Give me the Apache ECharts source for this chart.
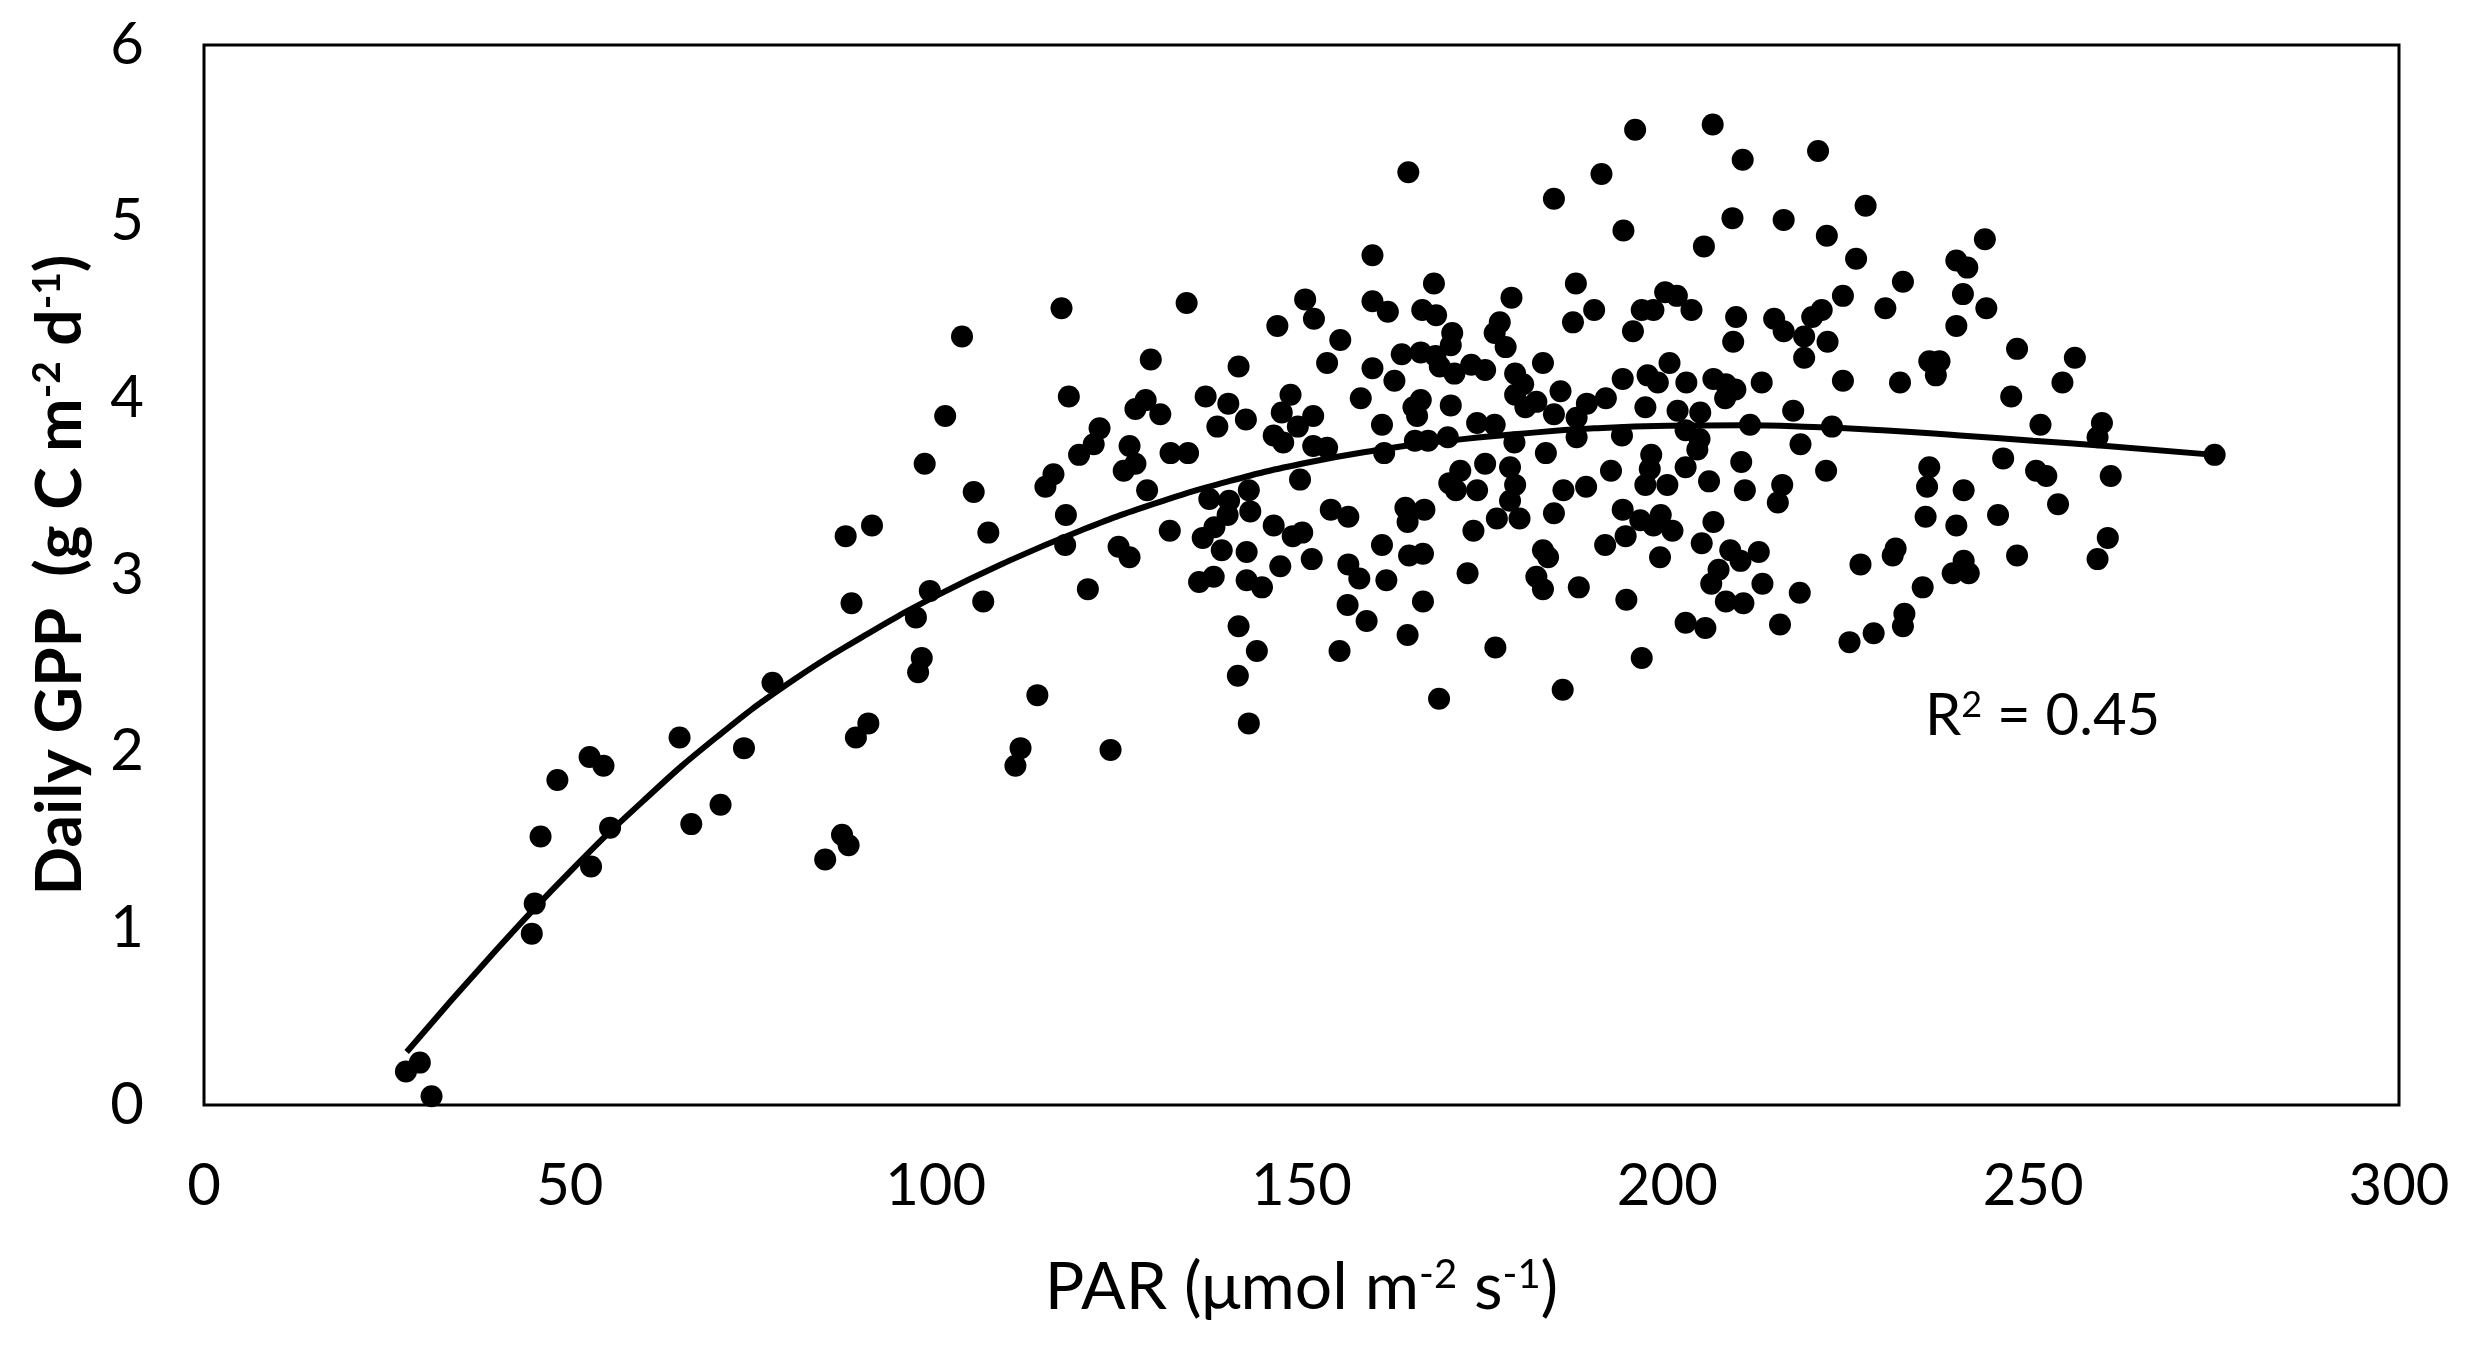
<!DOCTYPE html>
<html>
<head>
<meta charset="utf-8">
<script src="https://cdn.jsdelivr.net/npm/echarts@6/dist/echarts.min.js"></script>
<style>
html,body{margin:0;padding:0;background:#fff;}
#chart{width:2477px;height:1353px;}
</style>
</head>
<body>
<div id="chart"></div>
<script>
// PAR (x) values of the daily observations
const parValues = [
27.6,29.5,31.1,44.8,45.2,46.0,48.3,52.7,52.9,54.6,55.5,65.0,66.6,70.6,73.8,77.7,84.9,87.2,87.7,
88.1,88.5,89.1,90.8,91.3,97.3,97.6,98.1,98.5,99.2,101.3,103.6,105.2,106.5,107.2,
110.9,111.6,113.9,115.0,116.1,117.2,117.7,117.8,118.2,119.6,120.8,121.6,122.4,123.9,125.0,125.7,126.5,126.5,127.3,127.3,
128.7,128.9,129.4,130.7,132.0,132.1,134.3,134.5,136.0,136.5,136.9,137.4,138.0,138.1,138.5,139.1,139.9,140.0,140.1,
141.3,141.4,141.4,142.4,142.5,142.5,142.8,142.8,143.0,143.9,144.6,146.2,146.2,146.7,147.1,147.3,147.5,148.5,148.8,
149.5,149.8,150.1,150.5,151.4,151.6,151.6,151.7,153.5,153.5,154.0,155.2,155.3,156.3,156.4,156.4,157.9,158.1,158.9,
159.7,159.7,159.7,161.0,161.0,161.3,161.6,161.8,162.7,163.7,164.2,164.5,164.5,164.7,165.3,165.5,165.8,166.3,166.3,
166.5,166.6,166.6,166.8,167.3,168.1,168.3,168.4,168.8,168.9,170.0,170.2,
164.6,170.4,170.6,170.4,170.9,171.1,171.7,172.7,173.2,173.5,174.0,174.0,175.1,175.1,176.4,176.4,176.5,176.7,177.1,
177.9,178.5,178.5,178.7,179.1,179.2,179.2,179.2,179.8,180.3,180.6,182.1,182.1,183.0,183.0,183.0,183.4,183.7,184.5,
184.5,184.5,185.4,185.7,185.8,187.1,187.5,187.6,187.6,187.9,188.9,189.0,190.0,191.0,191.5,191.6,192.3,193.8,193.9,
193.9,194.0,194.3,194.4,195.3,195.6,196.3,196.5,196.5,197.0,197.0,197.3,197.6,197.8,198.1,198.1,198.7,199.0,199.1,
199.7,200.0,200.3,200.7,201.3,201.4,202.5,202.5,202.5,202.6,203.3,204.1,204.4,204.5,204.7,205.0,205.2,205.7,206.0,
206.2,206.3,206.3,207.0,207.9,208.0,208.0,208.6,208.9,209.0,209.3,209.4,210.0,210.1,210.3,210.4,210.6,211.3,212.5,
212.9,213.0,214.6,215.1,215.4,215.7,215.9,215.9,217.2,218.1,218.2,218.7,218.7,219.8,220.6,221.1,221.7,221.8,221.9,
222.5,224.0,224.0,224.9,225.8,226.4,227.1,228.2,229.8,230.8,231.2,231.8,
232.2,232.4,232.2,234.9,235.3,235.5,235.8,235.8,236.7,237.2,239.0,239.5,239.5,239.5,240.4,240.5,240.5,241.0,241.2,
243.4,243.6,245.2,245.9,247.0,247.8,247.8,250.4,251.0,251.8,253.4,254.0,255.7,258.8,258.8,259.4,260.2,260.6,274.8
];

// Daily GPP (y) values, same order as parValues
const gppValues = [
0.19,0.24,0.05,0.97,1.14,1.52,1.84,1.97,1.35,1.92,1.57,2.08,1.59,1.70,2.02,2.39,1.39,1.53,3.22,
1.47,2.84,2.08,2.16,3.28,2.76,2.45,2.53,3.63,2.91,3.90,4.35,3.47,2.85,3.24,
1.92,2.02,2.32,3.50,3.57,4.51,3.17,3.34,4.01,3.68,2.92,3.74,3.83,2.01,3.16,3.59,3.10,3.73,3.63,3.94,
3.99,3.48,4.22,3.91,3.25,3.69,4.54,3.69,2.96,3.21,4.01,3.43,2.99,3.27,3.84,3.14,3.34,3.97,3.42,
2.43,2.71,4.18,3.88,3.13,2.97,3.48,2.16,3.36,2.57,2.93,3.79,3.28,4.41,3.05,3.92,3.75,4.02,3.22,
3.84,3.54,3.24,4.56,3.09,3.90,3.73,4.45,4.20,3.72,3.37,2.57,4.33,2.83,3.33,3.06,2.98,4.00,2.74,
4.81,4.55,4.17,3.85,3.17,3.69,2.97,4.49,4.10,4.25,3.38,3.30,2.66,3.11,3.95,3.76,3.90,3.99,4.26,
4.50,3.12,2.85,3.37,3.76,4.65,4.24,4.47,2.30,4.18,3.78,3.52,
5.28,4.30,4.37,3.96,4.14,3.48,3.59,3.01,4.19,3.25,3.86,3.48,4.16,3.63,4.37,3.85,2.59,3.32,4.43,
4.29,3.61,3.42,4.57,3.75,4.14,4.02,3.51,3.32,4.08,3.95,3.98,2.99,4.20,3.14,2.92,3.69,3.10,5.13,
3.91,3.35,4.04,2.35,3.48,4.43,4.65,3.89,3.78,2.93,3.50,3.97,4.50,5.27,3.17,4.00,3.59,3.79,4.11,
3.37,4.95,3.22,2.86,4.38,5.52,3.31,4.50,2.53,3.95,3.51,4.13,3.60,3.68,4.50,3.28,4.09,3.10,3.34,
4.60,3.51,4.20,3.25,4.58,3.93,3.82,3.61,2.73,4.09,4.50,3.71,3.77,3.92,3.18,4.86,2.70,3.53,2.95,
5.55,4.11,3.30,3.03,4.00,4.08,2.85,3.14,5.02,4.32,4.05,4.46,3.08,3.64,5.35,2.84,3.48,3.85,3.13,
4.09,2.95,4.45,3.41,2.72,3.51,5.01,4.38,3.93,2.90,3.74,4.35,4.23,4.46,5.40,4.50,3.59,4.92,4.32,
3.84,4.58,4.10,2.62,4.79,3.06,5.09,2.67,4.51,3.11,3.15,4.09,
4.66,2.78,2.71,2.93,3.33,3.50,3.61,4.21,4.13,4.21,3.01,4.78,4.41,3.28,4.59,3.48,3.08,4.74,3.01,
4.90,4.51,3.34,3.66,4.01,4.28,3.11,3.59,3.85,3.56,3.40,4.09,4.23,3.78,3.09,3.86,3.21,3.56,3.68
];

// Polynomial trend line
const trendPar = [27.7,40,50,60,70,80,90,100,110,120,130,140,150,160,170,180,190,200,210,220,230,240,250,260,274.8];
const trendGpp = [0.30,0.88,1.32,1.72,2.08,2.39,2.65,2.88,3.08,3.255,3.405,3.53,3.63,3.705,3.76,3.80,3.83,3.845,3.848,3.838,3.818,3.79,3.76,3.73,3.68];

const xTickStep = 50;
const yTickStep = 1;
const r2Label = '0.45';

const FONT = 'Lato';
const chart = echarts.init(document.getElementById('chart'), null, {renderer: 'canvas'});

const scatterData = parValues.map((x, i) => [x, gppValues[i]]);
const trendData = trendPar.map((x, i) => [x, trendGpp[i]]);

chart.setOption({
  animation: false,
  backgroundColor: '#ffffff',
  title: {
    text: 'R{s|2} = ' + r2Label,
    left: 1925,
    top: 687,
    padding: 0,
    textStyle: {
      fontFamily: FONT, fontSize: 58, fontWeight: 'normal', color: '#000', lineHeight: 58,
      rich: {
        s: {fontFamily: FONT, fontSize: 36, lineHeight: 36, verticalAlign: 'top', color: '#000'}
      }
    }
  },
  grid: {
    left: 204, right: 78, top: 45, bottom: 248,
    show: true, borderColor: '#000', borderWidth: 3, backgroundColor: 'transparent',
    containLabel: false
  },
  xAxis: {
    type: 'value', min: 0, max: 300, interval: xTickStep,
    axisLine: {show: false}, axisTick: {show: false}, splitLine: {show: false},
    axisLabel: {fontFamily: FONT, fontSize: 58, color: '#000', margin: 52},
    name: '{t|PAR (μmol m}{s|-2}{t| s}{s|-1}{t|)}',
    nameLocation: 'middle', nameGap: 150,
    nameTextStyle: {
      rich: {
        t: {fontFamily: FONT, fontSize: 66, lineHeight: 66, color: '#000'},
        s: {fontFamily: FONT, fontSize: 40, lineHeight: 40, verticalAlign: 'top', color: '#000'}
      }
    }
  },
  yAxis: {
    type: 'value', min: 0, max: 6, interval: yTickStep,
    axisLine: {show: false}, axisTick: {show: false}, splitLine: {show: false},
    axisLabel: {fontFamily: FONT, fontSize: 58, color: '#000', margin: 60},
    name: '{t|Daily GPP  (g C m}{s|-2}{t| d}{s|-1}{t|)}',
    nameLocation: 'middle', nameRotate: 90, nameGap: 112,
    nameTextStyle: {
      rich: {
        t: {fontFamily: FONT, fontSize: 64, fontWeight: 'bold', lineHeight: 64, color: '#000'},
        s: {fontFamily: FONT, fontSize: 39, fontWeight: 'bold', lineHeight: 39, verticalAlign: 'top', color: '#000'}
      }
    }
  },
  series: [
    {
      type: 'scatter', data: scatterData, symbol: 'circle', symbolSize: 22,
      itemStyle: {color: '#000', opacity: 1}, silent: true, z: 2
    },
    {
      type: 'line', data: trendData, smooth: true, showSymbol: false, symbol: 'none',
      lineStyle: {color: '#000', width: 6}, silent: true, z: 3
    }
  ]
});
</script>
</body>
</html>
